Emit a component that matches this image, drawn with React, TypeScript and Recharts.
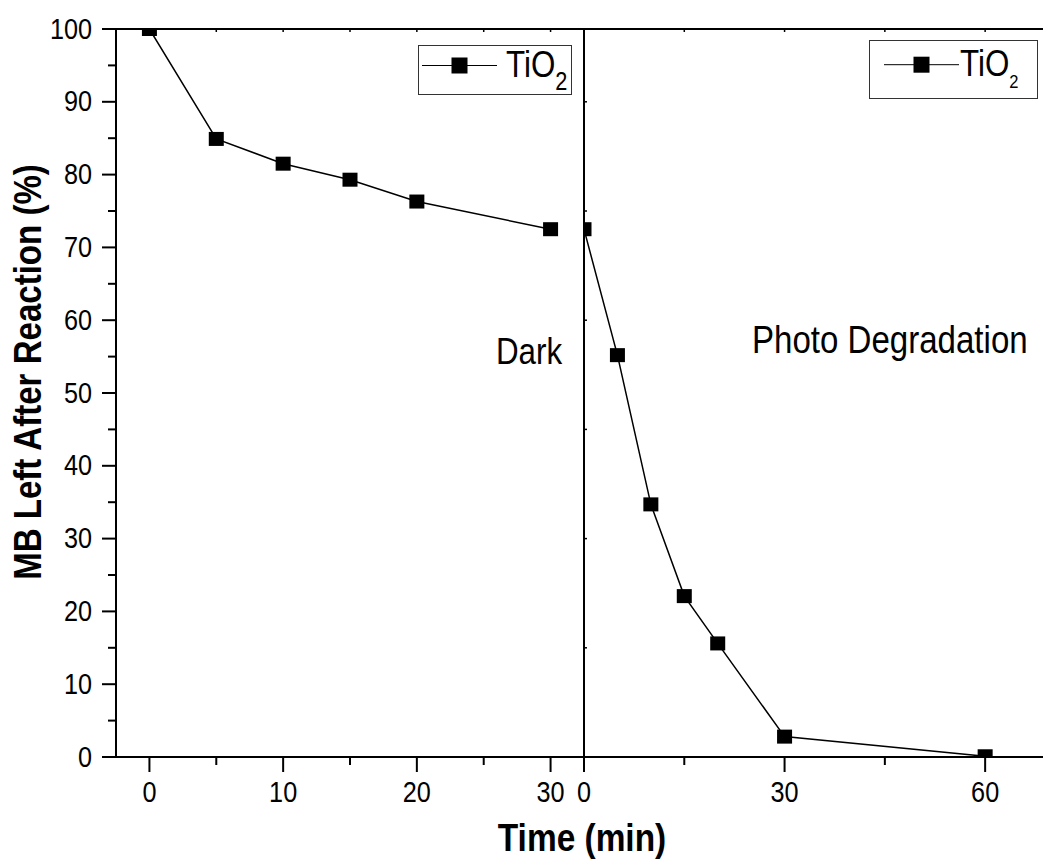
import React from 'react';
import { LineChart, Line, XAxis, YAxis, Legend } from 'recharts';

// dark adsorption stage
const darkTime = [0, 5, 10, 15, 20, 30];
const darkMB = [100, 84.9, 81.5, 79.3, 76.3, 72.5];

// photo degradation stage
const photoTime = [0, 5, 10, 15, 20, 30, 60];
const photoMB = [72.5, 55.2, 34.7, 22.1, 15.6, 2.8, 0.1];

const yTicks = [0, 5, 10, 15, 20, 25, 30, 35, 40, 45, 50, 55, 60, 65, 70, 75, 80, 85, 90, 95, 100];
const darkTicks = [0, 5, 10, 15, 20, 25, 30];
const darkLabels = [0, 10, 20, 30];
const photoTicks = [0, 15, 30, 45, 60];
const photoLabels = [0, 30, 60];
const midTicks = [0, 15, 30, 45, 60, 75, 90];

const seriesName = 'TiO2';

const darkData = darkTime.map((t, i) => ({ t, mb: darkMB[i] }));
const photoData = photoTime.map((t, i) => ({ t, mb: photoMB[i] }));

const FONT = '"Liberation Sans", Arial, sans-serif';
const SX = 0.87;
// plot frame (shared by both panels)
const PLOT_TOP = 29;
const PLOT_BOTTOM = 757;

// square marker, cut at the plot frame like the original
const SquareDot = (p: any) => {
  const { cx, cy, index } = p;
  if (cx == null || cy == null) return null;
  const y0 = Math.max(cy - 7, PLOT_TOP);
  const y1 = Math.min(cy + 7, PLOT_BOTTOM);
  return <rect key={`sq-${index}`} x={cx - 7.5} y={y0} width={15} height={Math.max(0, y1 - y0)} fill="#000" />;
};

const YTick = (p: any) => {
  const { x, y, payload } = p;
  const major = payload.value % 10 === 0;
  return (
    <g>
      <line x1={x} x2={x - (major ? 14 : 8)} y1={y} y2={y} stroke="#000" strokeWidth={2} />
      {major && (
        <text transform={`translate(${x - 24},${y + 9.5}) scale(${SX},1)`} textAnchor="end" fontSize={29} fill="#000" fontFamily={FONT}>
          {payload.value}
        </text>
      )}
    </g>
  );
};

const makeXTick = (labels: number[]) => (p: any) => {
  const { x, y, payload } = p;
  const major = labels.includes(payload.value);
  return (
    <g>
      <line x1={x} x2={x} y1={y} y2={y + (major ? 15 : 8)} stroke="#000" strokeWidth={2} />
      {major && (
        <text transform={`translate(${x},${y + 45}) scale(${SX},1)`} textAnchor="middle" fontSize={29} fill="#000" fontFamily={FONT}>
          {payload.value}
        </text>
      )}
    </g>
  );
};

const TopTick = (p: any) => (
  <line x1={p.x} x2={p.x} y1={p.y} y2={p.y + 3} stroke="#000" strokeWidth={1.5} />
);

const MidTick = (p: any) => (
  <line x1={p.x} x2={p.x + 3} y1={p.y} y2={p.y} stroke="#000" strokeWidth={1.5} />
);

const makeLegend = (o: { w: number; h: number; lx: number; ly: number; tx: number; ty: number; sub: number; subDy: number }) => (props: any) => {
  const name = props.payload && props.payload[0] ? String(props.payload[0].value) : seriesName;
  return (
    <svg width={o.w} height={o.h} style={{ display: 'block' }}>
      <rect x={0.5} y={0.5} width={o.w - 1} height={o.h - 1} fill="#fff" stroke="#333" strokeWidth={1} />
      <line x1={o.lx} x2={o.lx + 75} y1={o.ly} y2={o.ly} stroke="#000" strokeWidth={1} />
      <rect x={o.lx + 29.5} y={o.ly - 8} width={16} height={16} fill="#000" />
      <text transform={`translate(${o.tx},${o.ty}) scale(${SX},1)`} fontSize={36} fontFamily={FONT} fill="#000">
        {name.slice(0, 3)}
        <tspan dy={o.subDy} fontSize={o.sub}>{name.slice(3)}</tspan>
      </text>
    </svg>
  );
};

const axisLine = { stroke: '#000', strokeWidth: 2 };

export default function App() {
  return (
    <div style={{ position: 'absolute', left: 0, top: 0, width: 1043, height: 861, overflow: 'hidden', background: '#fff', fontFamily: FONT }}>
      <div style={{ position: 'absolute', left: 0, top: 0 }}>
        <LineChart width={600} height={861} data={darkData} margin={{ top: 28, right: 16, bottom: 44, left: 16 }}>
          <XAxis dataKey="t" type="number" domain={[-2.5, 32.5]} ticks={darkTicks} interval={0} height={60}
            axisLine={axisLine} tickLine={false} tickSize={0} tickMargin={0} tick={makeXTick(darkLabels)} allowDataOverflow />
          <XAxis xAxisId="top" orientation="top" dataKey="t" type="number" domain={[-2.5, 32.5]} ticks={darkTicks} interval={0} height={1}
            axisLine={axisLine} tickLine={false} tickSize={0} tickMargin={0} tick={TopTick} allowDataOverflow />
          <YAxis type="number" domain={[0, 100]} ticks={yTicks} interval={0} width={100}
            axisLine={axisLine} tickLine={false} tickSize={0} tickMargin={0} tick={YTick} allowDataOverflow />
          <Legend layout="horizontal" verticalAlign="middle" align="center"
            wrapperStyle={{ left: 418, top: 45, width: 154, height: 50 }}
            content={makeLegend({ w: 154, h: 50, lx: 4, ly: 20.5, tx: 88, ty: 32, sub: 25, subDy: 13 })} />
          <Line type="linear" dataKey="mb" name={seriesName} stroke="#000" strokeWidth={1.5} dot={SquareDot} activeDot={false} isAnimationActive={false} />
        </LineChart>
      </div>
      <div style={{ position: 'absolute', left: 0, top: 0 }}>
        <LineChart width={1052} height={861} data={photoData} margin={{ top: 28, right: 0, bottom: 44, left: 574 }}>
          <XAxis dataKey="t" type="number" domain={[0, 70]} ticks={photoTicks} interval={0} height={60}
            axisLine={axisLine} tickLine={false} tickSize={0} tickMargin={0} tick={makeXTick(photoLabels)} allowDataOverflow />
          <XAxis xAxisId="top" orientation="top" dataKey="t" type="number" domain={[0, 70]} ticks={photoTicks} interval={0} height={1}
            axisLine={axisLine} tickLine={false} tickSize={0} tickMargin={0} tick={TopTick} allowDataOverflow />
          <YAxis type="number" domain={[0, 100]} ticks={midTicks} interval={0} width={10}
            axisLine={axisLine} tickLine={false} tickSize={0} tickMargin={0} tick={MidTick} allowDataOverflow />
          <Legend layout="horizontal" verticalAlign="middle" align="center"
            wrapperStyle={{ left: 869, top: 40, width: 169, height: 59 }}
            content={makeLegend({ w: 169, h: 59, lx: 15, ly: 24.7, tx: 91, ty: 36, sub: 19, subDy: 12 })} />
          <Line type="linear" dataKey="mb" name={seriesName} stroke="#000" strokeWidth={1.5} dot={SquareDot} activeDot={false} isAnimationActive={false} />
        </LineChart>
      </div>
      <svg width={1043} height={861} style={{ position: 'absolute', left: 0, top: 0, pointerEvents: 'none' }} fontFamily={FONT}>
        <text transform={`translate(41,372) rotate(-90) scale(${SX},1)`} textAnchor="middle" fontWeight="bold" fontSize={38} fill="#000">
          MB Left After Reaction (%)
        </text>
        <text transform={`translate(582,851) scale(0.88,1)`} textAnchor="middle" fontWeight="bold" fontSize={38} fill="#000">Time (min)</text>
        <text transform={`translate(496,364) scale(${SX},1)`} fontSize={36} fill="#000">Dark</text>
        <text transform={`translate(752,353) scale(${SX},1)`} fontSize={38} fill="#000">Photo Degradation</text>
      </svg>
    </div>
  );
}
